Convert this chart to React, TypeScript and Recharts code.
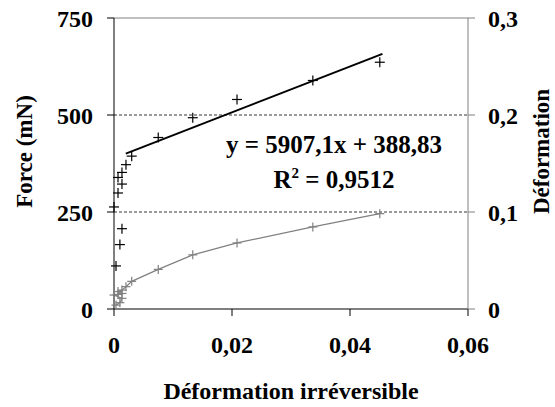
import {
  ComposedChart,
  Line,
  ReferenceDot,
  ReferenceLine,
  Scatter,
  XAxis,
  YAxis,
} from "recharts";

// déformation irréversible (x) for each loading step
const defIrr = [
  0.00034, 0.001, 0.00135, 0, 0.00068, 0.00135, 0.00068, 0.00135, 0.00203, 0.003, 0.0075,
  0.01335, 0.02085, 0.0337, 0.04505,
];
// force (mN), left axis
const force = [111, 166, 207, 263, 299, 322, 339, 352, 372, 394, 442, 493, 540, 589, 636];
// déformation, right axis
const deformation = [
  0.004, 0.0065, 0.011, 0.0144, 0.015, 0.016, 0.018, 0.0195, 0.023, 0.0285, 0.0408, 0.0558,
  0.0681, 0.0846, 0.0983,
];
// linear trend endpoints (y = 5907,1x + 388,83)
const trendX = [0.002, 0.0455];
const trendForce = [400.6, 657.6];

const xTicks = [0, 0.02, 0.04, 0.06];
const forceTicks = [0, 250, 500, 750];
const defTicks = [0, 0.1, 0.2, 0.3];

const forcePoints = defIrr.map((x, i) => ({ x, force: force[i] }));
const defPoints = defIrr.map((x, i) => ({ x, def: deformation[i] }));
const trendPoints = trendX.map((x, i) => ({ x, force: trendForce[i] }));

const FONT = '"Liberation Serif", "Times New Roman", serif';
const GRAY = "#808080";
const textStyle = { fontFamily: FONT, fontWeight: 700, fill: "#000" };
const comma = (v: number) => String(v).replace(".", ",");

const Tick = (props: any) => {
  const { x, y, payload, anchor, shift } = props;
  return (
    <text x={x} y={y} dy={shift} textAnchor={anchor} fontSize={24} style={textStyle}>
      {comma(payload.value)}
    </text>
  );
};

const Plus = (props: any) => {
  const { cx, cy, color = "#000", s = 5 } = props;
  if (cx == null || cy == null) return null;
  return (
    <g stroke={color} strokeWidth={1.2}>
      <line x1={cx - s} x2={cx + s} y1={cy} y2={cy} />
      <line x1={cx} x2={cx} y1={cy - s} y2={cy + s} />
    </g>
  );
};

const EquationLabel = (props: any) => {
  const { x, y } = props.viewBox;
  return (
    <g fontSize={25} style={textStyle}>
      <text x={x} y={y} textAnchor="middle" style={textStyle}>
        y = 5907,1x + 388,83
      </text>
      <text x={x} y={y + 35} textAnchor="middle" style={textStyle}>
        R<tspan fontSize={15} dy={-10}>2</tspan>
        <tspan dy={10}> = 0,9512</tspan>
      </text>
    </g>
  );
};

const SideTitle = (props: any) => {
  const { y, height } = props.viewBox;
  const { cx, text } = props;
  const cy = y + height / 2 - 12;
  return (
    <text
      x={cx}
      y={cy}
      transform={`rotate(-90, ${cx}, ${cy})`}
      textAnchor="middle"
      fontSize={23}
      style={textStyle}
    >
      {text}
    </text>
  );
};

export default function App() {
  return (
    <div style={{ position: "absolute", left: 0, top: 0, background: "#fff", fontFamily: FONT }}>
      <ComposedChart width={555} height={407} margin={{ top: 18, right: 0, bottom: 0, left: 0 }}>
        <XAxis
          type="number"
          dataKey="x"
          domain={[0, 0.06]}
          ticks={xTicks}
          height={98}
          tickSize={7}
          tickMargin={20}
          stroke="#000"
          tick={<Tick anchor="middle" shift="0.71em" />}
          label={{
            value: "Déformation irréversible",
            position: "insideBottom",
            offset: 8,
            style: { ...textStyle, fontSize: 24 },
          }}
        />
        <YAxis
          yAxisId="f"
          type="number"
          domain={[0, 750]}
          ticks={forceTicks}
          width={114}
          tickSize={7}
          tickMargin={14}
          stroke="#000"
          tick={<Tick anchor="end" shift="0.355em" />}
          label={<SideTitle cx={32} text="Force (mN)" />}
        />
        <YAxis
          yAxisId="d"
          orientation="right"
          type="number"
          domain={[0, 0.3]}
          ticks={defTicks}
          width={87}
          tickSize={7}
          tickMargin={13}
          stroke={GRAY}
          tick={<Tick anchor="start" shift="0.355em" />}
          label={<SideTitle cx={549} text="Déformation" />}
        />
        <ReferenceLine yAxisId="f" y={750} stroke={GRAY} strokeWidth={1} />
        <ReferenceLine yAxisId="f" y={500} stroke="#000" strokeWidth={0.8} strokeDasharray="3 2" />
        <ReferenceLine yAxisId="f" y={250} stroke="#000" strokeWidth={0.8} strokeDasharray="3 2" />
        <Line
          yAxisId="d"
          data={defPoints}
          dataKey="def"
          type="linear"
          stroke={GRAY}
          strokeWidth={1.2}
          dot={(p: any) => <Plus key={`d${p.index}`} {...p} color={GRAY} s={4.5} />}
          activeDot={false}
          isAnimationActive={false}
        />
        <Line
          yAxisId="f"
          data={trendPoints}
          dataKey="force"
          type="linear"
          stroke="#000"
          strokeWidth={2}
          dot={false}
          activeDot={false}
          isAnimationActive={false}
        />
        <Scatter
          yAxisId="f"
          data={forcePoints}
          dataKey="force"
          fill="#000"
          shape={(p: any) => <Plus {...p} color="#000" s={5} />}
          isAnimationActive={false}
        />
        <ReferenceDot
          yAxisId="f"
          x={0.0373}
          y={402}
          r={0}
          stroke="none"
          label={<EquationLabel />}
        />
      </ComposedChart>
    </div>
  );
}
